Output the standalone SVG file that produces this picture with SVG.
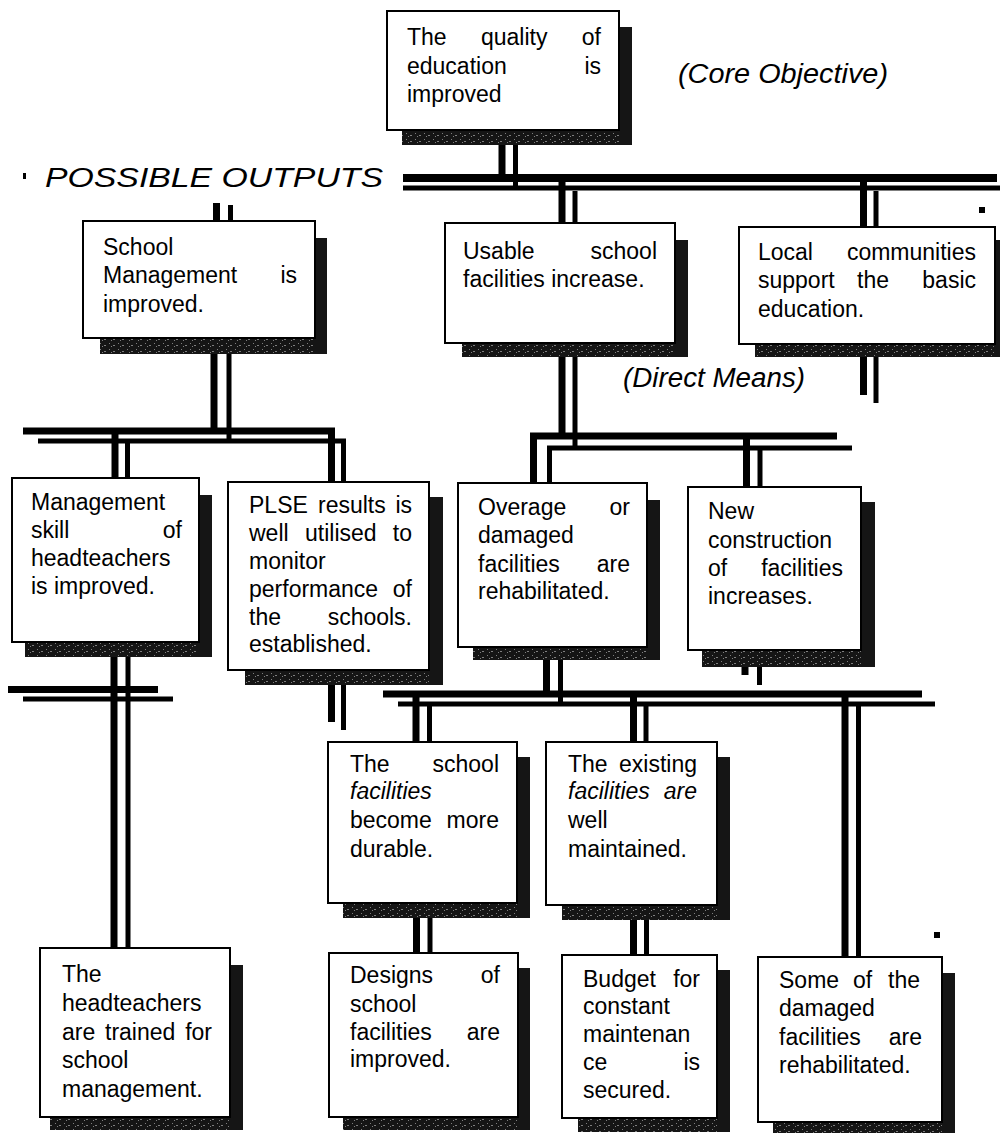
<svg xmlns="http://www.w3.org/2000/svg" width="1000" height="1133" viewBox="0 0 1000 1133">
<style>
  .box{fill:#fff;stroke:#000;stroke-width:2}
  .shd{fill:#151515}
  .spk{fill:url(#speck);opacity:0.45}
  .t{font-family:"Liberation Sans",Arial,sans-serif;font-size:23px;fill:#000}
  .i{font-style:italic}
  .e{text-anchor:end}
  .lbl{font-family:"Liberation Sans",Arial,sans-serif;font-style:italic;fill:#000}
  .k{fill:none;stroke:#000;stroke-width:7}
  .n{fill:none;stroke:#000;stroke-width:5}
</style>
<defs>
  <!-- light flecks for the lower edge of the drop shadows -->
  <pattern id="speck" width="9" height="6" patternUnits="userSpaceOnUse">
    <rect x="1" y="1" width="1" height="1" fill="#fff"/>
    <rect x="5" y="3" width="2" height="1" fill="#fff"/>
    <rect x="3" y="4" width="1" height="1" fill="#fff"/>
  </pattern>
</defs>
<rect width="1000" height="1133" fill="#fff"/>

<!-- double-rule connectors: heavy rule plus lighter offset rule -->
<g id="connectors">
  <path class="k" d="M502 130V178"/><path class="n" d="M515.5 145V188"/>
  <path class="k" style="stroke-width:8" d="M403 178H997"/><path class="n" d="M403 188H1000"/>
  <path class="k" d="M562 182V224"/><path class="n" d="M575 191V224"/>
  <path class="k" d="M863.5 182V227"/><path class="n" d="M876 191V227"/>
  <path class="k" d="M216.5 203V221"/><path class="n" d="M230.5 205V221"/>
  <path class="k" d="M214 338V434"/><path class="n" d="M229 354V443"/>
  <path class="k" d="M23 431H331.5V482"/><path class="n" d="M38 441H343.5V482"/>
  <path class="k" d="M115 431V478"/><path class="n" d="M127.5 441V478"/>
  <path class="k" d="M114 642V948"/><path class="n" d="M128 657V948"/>
  <path class="k" d="M8 689.5H158"/><path class="n" d="M23 699H173"/>
  <path class="k" d="M331.5 670V722"/><path class="n" d="M343.5 685V730"/>
  <path class="k" d="M533.5 483V436H837"/><path class="n" d="M549.5 483V448H852"/>
  <path class="k" d="M562 343V436"/><path class="n" d="M575 357V448"/>
  <path class="k" d="M863.5 344V395"/><path class="n" d="M876 357V403"/>
  <path class="k" d="M746.5 436V487"/><path class="n" d="M760 448V487"/>
  <path class="k" d="M745 650V675"/><path class="n" d="M759.5 667V685"/>
  <path class="k" d="M546.5 647V694"/><path class="n" d="M560.5 660V704"/>
  <path class="k" d="M383 694H922"/><path class="n" d="M398 704H935"/>
  <path class="k" d="M416 694V742"/><path class="n" d="M429.5 704V742"/>
  <path class="k" d="M633.5 694V742"/><path class="n" d="M646 704V742"/>
  <path class="k" d="M845 694V957"/><path class="n" d="M858.5 704V957"/>
  <path class="k" d="M416.5 903V953"/><path class="n" d="M430 918V953"/>
  <path class="k" d="M633.5 905V955"/><path class="n" d="M646.5 920V955"/>
</g>

<!-- free labels and stray marks -->
<g id="labels">
  <text class="lbl" x="678" y="83" font-size="27" textLength="210" lengthAdjust="spacingAndGlyphs">(Core Objective)</text>
  <text class="lbl" x="45" y="187" font-size="28" textLength="338" lengthAdjust="spacingAndGlyphs">POSSIBLE OUTPUTS</text>
  <text class="lbl" x="623" y="387" font-size="27" textLength="182" lengthAdjust="spacingAndGlyphs">(Direct Means)</text>
  <rect x="23" y="173" width="3" height="6" fill="#000"/>
  <rect x="979" y="207" width="6" height="6" fill="#000"/>
  <rect x="934" y="932" width="6" height="6" fill="#000"/>
</g>

<g id="n-core">
  <rect class="shd" x="402" y="27" width="230" height="118"/>
  <rect class="spk" x="402" y="131" width="217" height="14"/>
  <rect class="box" x="387" y="11" width="232" height="119"/>
  <text class="t" x="407" y="45">The</text><text class="t" x="481" y="45">quality</text><text class="t e" x="601" y="45">of</text>
  <text class="t" x="407" y="74">education</text><text class="t e" x="601" y="74">is</text>
  <text class="t" x="407" y="102">improved</text>
</g>

<g id="n-school">
  <rect class="shd" x="100" y="238" width="227" height="116"/>
  <rect class="spk" x="100" y="339" width="215" height="15"/>
  <rect class="box" x="83" y="221" width="232" height="117"/>
  <text class="t" x="103" y="255">School</text>
  <text class="t" x="103" y="283">Management</text><text class="t e" x="297" y="283">is</text>
  <text class="t" x="103" y="312">improved.</text>
</g>

<g id="n-usable">
  <rect class="shd" x="462" y="240" width="226" height="117"/>
  <rect class="spk" x="462" y="344" width="213" height="13"/>
  <rect class="box" x="445" y="223" width="230" height="120"/>
  <text class="t" x="463" y="259">Usable</text><text class="t e" x="657" y="259">school</text>
  <text class="t" x="463" y="287">facilities increase.</text>
</g>

<g id="n-local">
  <rect class="shd" x="755" y="240" width="253" height="117"/>
  <rect class="spk" x="755" y="345" width="240" height="12"/>
  <rect class="box" x="739" y="227" width="256" height="117"/>
  <text class="t" x="758" y="260">Local</text><text class="t e" x="976" y="260">communities</text>
  <text class="t" x="758" y="288">support</text><text class="t" x="857" y="288">the</text><text class="t e" x="976" y="288">basic</text>
  <text class="t" x="758" y="317">education.</text>
</g>

<g id="n-skill">
  <rect class="shd" x="25" y="495" width="187" height="162"/>
  <rect class="spk" x="25" y="643" width="174" height="14"/>
  <rect class="box" x="12" y="478" width="187" height="164"/>
  <text class="t" x="31" y="510">Management</text>
  <text class="t" x="31" y="538">skill</text><text class="t e" x="182" y="538">of</text>
  <text class="t" x="31" y="566">headteachers</text>
  <text class="t" x="31" y="594">is improved.</text>
</g>

<g id="n-plse">
  <rect class="shd" x="245" y="497" width="198" height="188"/>
  <rect class="spk" x="245" y="671" width="184" height="14"/>
  <rect class="box" x="228" y="482" width="201" height="188"/>
  <text class="t" x="249" y="513">PLSE</text><text class="t" x="318" y="513">results</text><text class="t e" x="412" y="513">is</text>
  <text class="t" x="249" y="541">well</text><text class="t" x="305" y="541">utilised</text><text class="t e" x="412" y="541">to</text>
  <text class="t" x="249" y="569">monitor</text>
  <text class="t" x="249" y="597">performance</text><text class="t e" x="412" y="597">of</text>
  <text class="t" x="249" y="625">the</text><text class="t e" x="412" y="625">schools.</text>
  <text class="t" x="249" y="652">established.</text>
</g>

<g id="n-overage">
  <rect class="shd" x="473" y="500" width="187" height="160"/>
  <rect class="spk" x="473" y="648" width="174" height="12"/>
  <rect class="box" x="458" y="483" width="189" height="164"/>
  <text class="t" x="478" y="515">Overage</text><text class="t e" x="630" y="515">or</text>
  <text class="t" x="478" y="543">damaged</text>
  <text class="t" x="478" y="572">facilities</text><text class="t e" x="630" y="572">are</text>
  <text class="t" x="478" y="599">rehabilitated.</text>
</g>

<g id="n-new">
  <rect class="shd" x="702" y="502" width="173" height="165"/>
  <rect class="spk" x="702" y="651" width="159" height="16"/>
  <rect class="box" x="688" y="487" width="173" height="163"/>
  <text class="t" x="708" y="519">New</text>
  <text class="t" x="708" y="548">construction</text>
  <text class="t" x="708" y="576">of</text><text class="t e" x="843" y="576">facilities</text>
  <text class="t" x="708" y="604">increases.</text>
</g>

<g id="n-durable">
  <rect class="shd" x="343" y="757" width="187" height="161"/>
  <rect class="spk" x="343" y="904" width="174" height="14"/>
  <rect class="box" x="328" y="742" width="189" height="161"/>
  <text class="t" x="350" y="772">The</text><text class="t e" x="499" y="772">school</text>
  <text class="t i" x="350" y="799">facilities</text>
  <text class="t" x="350" y="828">become</text><text class="t e" x="499" y="828">more</text>
  <text class="t" x="350" y="857">durable.</text>
</g>

<g id="n-maintained">
  <rect class="shd" x="562" y="757" width="168" height="163"/>
  <rect class="spk" x="562" y="906" width="155" height="14"/>
  <rect class="box" x="546" y="742" width="171" height="163"/>
  <text class="t" x="568" y="772">The</text><text class="t e" x="697" y="772">existing</text>
  <text class="t i" x="568" y="799">facilities</text><text class="t i e" x="697" y="799">are</text>
  <text class="t" x="568" y="828">well</text>
  <text class="t" x="568" y="857">maintained.</text>
</g>

<g id="n-trained">
  <rect class="shd" x="50" y="965" width="193" height="165"/>
  <rect class="spk" x="50" y="1118" width="180" height="12"/>
  <rect class="box" x="40" y="948" width="190" height="169"/>
  <text class="t" x="62" y="982">The</text>
  <text class="t" x="62" y="1011">headteachers</text>
  <text class="t" x="62" y="1040">are</text><text class="t" x="105" y="1040">trained</text><text class="t e" x="212" y="1040">for</text>
  <text class="t" x="62" y="1068">school</text>
  <text class="t" x="62" y="1097">management.</text>
</g>

<g id="n-designs">
  <rect class="shd" x="343" y="968" width="187" height="162"/>
  <rect class="spk" x="343" y="1118" width="175" height="12"/>
  <rect class="box" x="329" y="953" width="189" height="164"/>
  <text class="t" x="350" y="983">Designs</text><text class="t e" x="500" y="983">of</text>
  <text class="t" x="350" y="1012">school</text>
  <text class="t" x="350" y="1040">facilities</text><text class="t e" x="500" y="1040">are</text>
  <text class="t" x="350" y="1067">improved.</text>
</g>

<g id="n-budget">
  <rect class="shd" x="578" y="970" width="152" height="162"/>
  <rect class="spk" x="578" y="1119" width="139" height="13"/>
  <rect class="box" x="562" y="955" width="155" height="163"/>
  <text class="t" x="583" y="987">Budget</text><text class="t e" x="700" y="987">for</text>
  <text class="t" x="583" y="1014">constant</text>
  <text class="t" x="583" y="1042">maintenan</text>
  <text class="t" x="583" y="1070">ce</text><text class="t e" x="700" y="1070">is</text>
  <text class="t" x="583" y="1098">secured.</text>
</g>

<g id="n-some">
  <rect class="shd" x="773" y="973" width="182" height="160"/>
  <rect class="spk" x="773" y="1123" width="169" height="10"/>
  <rect class="box" x="758" y="957" width="184" height="165"/>
  <text class="t" x="779" y="988">Some</text><text class="t" x="853" y="988">of</text><text class="t e" x="920" y="988">the</text>
  <text class="t" x="779" y="1016">damaged</text>
  <text class="t" x="779" y="1045">facilities</text><text class="t e" x="922" y="1045">are</text>
  <text class="t" x="779" y="1073">rehabilitated.</text>
</g>
</svg>
